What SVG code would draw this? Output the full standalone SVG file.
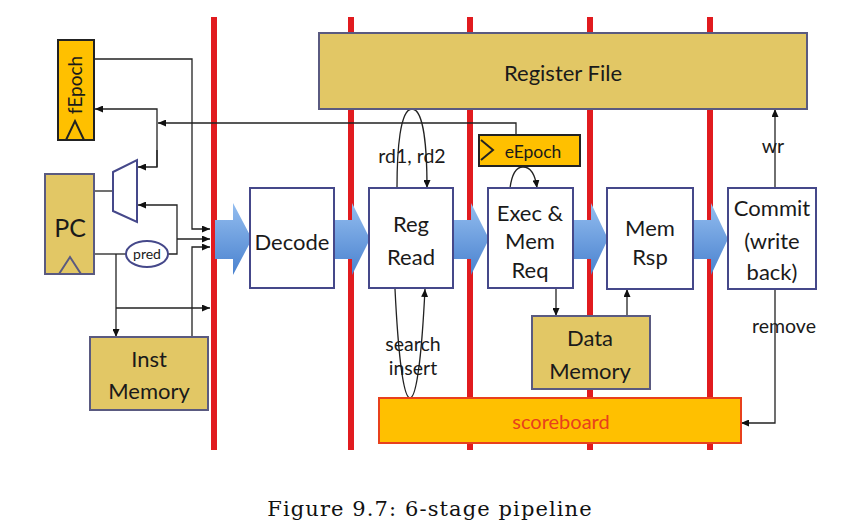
<svg xmlns="http://www.w3.org/2000/svg" width="862" height="532" viewBox="0 0 862 532">
<defs>
<marker id="ah" markerUnits="userSpaceOnUse" markerWidth="8" markerHeight="7" refX="8" refY="3.5" orient="auto"><path d="M0,0 L8,3.5 L0,7 z" fill="#111"/></marker>
<linearGradient id="bg" x1="0" y1="0" x2="0" y2="1"><stop offset="0" stop-color="#93bdef"/><stop offset="1" stop-color="#4a82cf"/></linearGradient>
</defs>
<style>
.t{font-family:Lato,"Liberation Sans",sans-serif;fill:#1a1a1a;text-anchor:middle}
.m{font-size:22px}
.l{font-size:19.5px}
.bar{stroke:#e11b1f;stroke-width:6}
.gold{fill:#e2c765;stroke:#5a5a80;stroke-width:2}
.org{fill:#ffc000;stroke:#222;stroke-width:2}
.box{fill:#fff;stroke:#45488a;stroke-width:2}
.w{fill:none;stroke:#222;stroke-width:1.3}
.wa{fill:none;stroke:#222;stroke-width:1.3;marker-end:url(#ah)}
.blu{fill:url(#bg)}
</style>
<rect width="862" height="532" fill="#fff"/>
<g id="stage-bars">
<line class="bar" x1="214" y1="17" x2="214" y2="450"/>
<line class="bar" x1="351" y1="17" x2="351" y2="450"/>
<line class="bar" x1="470" y1="17" x2="470" y2="450"/>
<line class="bar" x1="590" y1="17" x2="590" y2="450"/>
<line class="bar" x1="710" y1="17" x2="710" y2="450"/>
</g>
<g id="flow-arrows">
<polygon class="blu" points="215,220 233,220 233,203 252,239 233,275 233,259 215,259"/>
<polygon class="blu" points="333,220 352,220 352,203 370,239 352,275 352,259 333,259"/>
<polygon class="blu" points="452,220 471,220 471,203 489,239 471,275 471,259 452,259"/>
<polygon class="blu" points="572,220 591,220 591,203 608,239 591,275 591,259 572,259"/>
<polygon class="blu" points="692,220 711,220 711,203 728,239 711,275 711,259 692,259"/>
</g>
<g id="connectors">
<polyline class="wa" points="94,59 192,59 192,229 210,229"/>
<polyline class="wa" points="516,135 516,123 158,123"/>
<polyline class="wa" points="157,167 157,109 95,109"/>
<polyline class="wa" points="157,150 157,167 138,167"/>
<line class="w" x1="94" y1="191" x2="113" y2="191"/>
<line class="w" x1="94" y1="254" x2="126" y2="254"/>
<polyline class="wa" points="168,254 177,254 177,205 138,205"/>
<polyline class="wa" points="177,239 210,239"/>
<polyline class="wa" points="116,254 116,337"/>
<polyline class="wa" points="116,308 210,308"/>
<polyline class="wa" points="192,337 192,247 210,247"/>
<path class="wa" d="M397,188 C397,150 400,109 412,109 C424,109 427,150 427,188"/>
<path class="wa" d="M510,188 C512,173 517,167 523,167 C530,167 535,173 537,188"/>
<path class="wa" d="M395,289 C398,350 403,398 410,398 C417,398 422,350 425,289"/>
<polyline class="wa" points="556,288 556,316"/>
<polyline class="wa" points="627,316 627,289"/>
<polyline class="wa" points="775,188 775,109"/>
<polyline class="wa" points="775,289 775,423 741,423"/>
</g>
<g id="register-file"><rect class="gold" x="319" y="33" width="488" height="76"/><text class="t m" x="563" y="81">Register File</text></g>
<g id="fepoch"><rect class="org" x="58" y="40" width="36" height="100"/><polyline fill="none" stroke="#222" stroke-width="2" points="66,140 75,121 84,140"/><text class="t" transform="translate(81.5,85) rotate(-90)" font-size="19">fEpoch</text></g>
<g id="pc"><rect class="gold" x="45" y="174" width="49" height="100"/><polyline fill="none" stroke="#5a5a80" stroke-width="2" points="59,274 70,257 81,274"/><text class="t" x="70" y="237" font-size="25">PC</text></g>
<g id="mux"><polygon fill="#fff" stroke="#45488a" stroke-width="2" points="113,172 137,160 137,222 113,211"/></g>
<g id="pred"><ellipse cx="147" cy="254" rx="21" ry="13" fill="#fff" stroke="#45488a" stroke-width="2"/><text class="t" x="147" y="259" font-size="14">pred</text></g>
<g id="inst-memory"><rect class="gold" x="90" y="337" width="118" height="73"/><text class="t m" x="149" y="367">Inst</text><text class="t m" x="149" y="399">Memory</text></g>
<g id="decode"><rect class="box" x="250" y="188" width="84" height="100"/><text class="t m" x="292" y="250">Decode</text></g>
<g id="reg-read"><rect class="box" x="369" y="188" width="84" height="100"/><text class="t m" x="411" y="232">Reg</text><text class="t m" x="411" y="265">Read</text></g>
<g id="eepoch"><rect class="org" x="479" y="135" width="101" height="31"/><polyline fill="none" stroke="#222" stroke-width="2" points="481,140 493,150 481,160"/><text class="t" x="533" y="158" font-size="17.5">eEpoch</text></g>
<g id="exec"><rect class="box" x="488" y="188" width="85" height="100"/><text class="t m" x="530" y="221">Exec &amp;</text><text class="t m" x="530" y="249">Mem</text><text class="t m" x="530" y="278">Req</text></g>
<g id="mem-rsp"><rect class="box" x="607" y="188" width="86" height="101"/><text class="t m" x="650" y="236">Mem</text><text class="t m" x="650" y="265">Rsp</text></g>
<g id="commit"><rect class="box" x="728" y="188" width="88" height="101"/><text class="t m" x="772" y="216">Commit</text><text class="t m" x="772" y="249">(write</text><text class="t m" x="772" y="280">back)</text></g>
<g id="data-memory"><rect class="gold" x="532" y="316" width="118" height="73"/><text class="t m" x="590" y="346">Data</text><text class="t m" x="590" y="379">Memory</text></g>
<g id="scoreboard"><rect fill="#ffc000" stroke="#e8401c" stroke-width="2" x="379" y="398" width="362" height="45"/><text class="t" x="561" y="429" font-size="20" style="fill:#e8401c">scoreboard</text></g>
<g id="labels">
<text class="t l" x="412" y="163">rd1, rd2</text>
<text class="t l" x="773" y="153">wr</text>
<text class="t l" x="784" y="333">remove</text>
<text class="t l" x="413" y="351">search</text>
<text class="t l" x="413" y="375">insert</text>
</g>
<text x="430" y="516" font-family="'DejaVu Serif',serif" font-size="21" letter-spacing="1.1" text-anchor="middle" fill="#111">Figure 9.7: 6-stage pipeline</text>
</svg>
